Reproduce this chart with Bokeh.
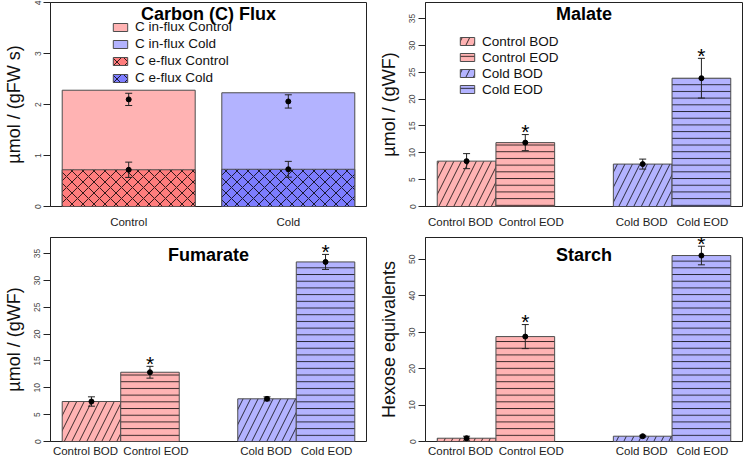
from bokeh.plotting import figure
from bokeh.layouts import column, row
from bokeh.models import Range1d, FixedTicker, Legend, LegendItem, ColumnDataSource, Label
from bokeh.embed import file_html
from bokeh.resources import INLINE
from bokeh.core.properties import value

# ---------------- data ----------------
flux_groups = ["Control", "Cold"]
influx_bar = [2.28, 2.23]
influx_mean = [2.10, 2.06]
influx_se = [0.12, 0.13]
efflux_bar = [0.72, 0.73]
efflux_mean = [0.72, 0.73]
efflux_se = [0.15, 0.155]
flux_legend = ["C in-flux Control", "C in-flux Cold", "C e-flux Control", "C e-flux Cold"]

met_labels = ["Control BOD", "Control EOD", "Cold BOD", "Cold EOD"]
malate_mean = [8.45, 11.9, 7.9, 23.9]
malate_se = [1.4, 1.5, 0.93, 3.7]
fumarate_mean = [7.45, 12.9, 7.95, 33.45]
fumarate_se = [0.87, 1.1, 0.37, 1.4]
starch_mean = [0.9, 28.8, 1.45, 51.05]
starch_se = [0.55, 3.3, 0.25, 2.55]
significant = [False, True, False, True]

flux_ylim = (0, 4)
malate_ylim = (0, 38)
fumarate_ylim = (0, 38)
starch_ylim = (0, 56)
flux_yticks = [0, 1, 2, 3, 4]
malate_yticks = [0, 5, 10, 15, 20, 25, 30, 35]
fumarate_yticks = [0, 5, 10, 15, 20, 25, 30, 35]
starch_yticks = [0, 10, 20, 30, 40, 50]

# ---------------- style ----------------
FONT = "Liberation Sans"
PINK = "#FFB3B3"
BLUE = "#B3B3FF"
PINK2 = "#FF7D7D"
BLUE2 = "#7D7DFF"
EDGE = "#4d4d4d"
met_fill = [PINK, PINK, BLUE, BLUE]
met_hatch = ["/", "-", "/", "-"]
met_hscale = [15, 6.7, 15, 6.7]
met_label_nudge = [-6, 6, -1, 1]   # px, keeps neighbouring labels apart
flux_label_nudge = [0, 0]
FRAME_W = 317


def single_lefts(n, space=0.2):
    return [space + i * (1 + space) for i in range(n)]


def grouped_lefts(ngroups, nper, gspace=1.0):
    return [gspace * (g + 1) + g * nper + j for g in range(ngroups) for j in range(nper)]


def r_xlim(lefts):
    lo, hi = min(lefts), max(lefts) + 1
    d = (hi - lo) * 0.04
    return (lo - d, hi + d)


def make_fig(w, h, bl, br, bt, bb, xr, yr, yticks, xcenters, xlabels, nudges, ylabel,
             title, title_off, xstand):
    p = figure(width=w, height=h, x_range=Range1d(*xr), y_range=Range1d(*yr),
               output_backend="svg", toolbar_location=None,
               min_border_left=bl, min_border_right=br,
               min_border_top=bt, min_border_bottom=bb)
    p.grid.visible = False
    p.outline_line_color = "#222222"
    p.outline_line_width = 1
    p.outline_line_alpha = 1
    p.background_fill_color = "white"
    p.border_fill_color = "white"

    ya = p.yaxis[0]
    ya.ticker = FixedTicker(ticks=yticks)
    ya.major_label_orientation = "vertical"
    ya.major_label_text_font = FONT
    ya.major_label_text_font_size = "8.5px"
    ya.major_label_text_color = "#444444"
    ya.major_tick_out = 7
    ya.major_tick_in = 0
    ya.minor_tick_line_color = None
    ya.axis_line_color = "#222222"
    ya.major_tick_line_color = "#222222"
    ya.major_label_standoff = 3
    ya.axis_label = ylabel
    ya.axis_label_text_font = FONT
    ya.axis_label_text_font_size = "18px"
    ya.axis_label_text_font_style = "normal"
    ya.axis_label_text_color = "#111111"
    ya.axis_label_standoff = 8

    # category labels under the bars (nudged a few px apart where they would touch)
    units_per_px = (xr[1] - xr[0]) / FRAME_W
    lab_pos = [round(c + nd * units_per_px, 6) for c, nd in zip(xcenters, nudges)]
    xa = p.xaxis[0]
    xa.ticker = FixedTicker(ticks=lab_pos)
    xa.major_label_overrides = {pos: lab for pos, lab in zip(lab_pos, xlabels)}
    xa.axis_line_color = None
    xa.major_tick_line_color = None
    xa.minor_tick_line_color = None
    xa.major_tick_out = 0
    xa.major_tick_in = 0
    xa.major_label_text_font = FONT
    xa.major_label_text_font_size = "11.5px"
    xa.major_label_text_color = "#222222"
    xa.major_label_standoff = xstand

    p.add_layout(Label(x=(xr[0] + xr[1]) / 2, y=yr[1], text=title,
                       text_font=FONT, text_font_size="18px", text_font_style="bold",
                       text_align="center", text_baseline="middle",
                       y_offset=-title_off, text_color="black"))
    return p


def errorbars(p, xs, mean, se):
    lo = [m - s for m, s in zip(mean, se)]
    hi = [m + s for m, s in zip(mean, se)]
    p.segment(x0=xs, y0=lo, x1=xs, y1=hi, line_color="#222222", line_width=1)
    p.scatter(x=xs + xs, y=hi + lo, marker="dash", size=7, line_color="#222222", line_width=1)
    p.scatter(x=xs, y=mean, size=5, color="black")
    return hi


def stars(p, xs, hi, sig):
    sx = [x for x, s in zip(xs, sig) if s]
    sy = [y for y, s in zip(hi, sig) if s]
    p.text(x=sx, y=sy, text=["*"] * len(sx), text_font=value(FONT),
           text_font_size="21px", text_align="center", text_baseline="middle",
           y_offset=-3, text_color="black")


def legend(p, items, loc, h):
    leg = Legend(items=items, location=loc, orientation="vertical",
                 border_line_color=None, background_fill_alpha=0,
                 padding=0, margin=0, spacing=0, glyph_width=18, glyph_height=10,
                 label_standoff=6, label_text_font=FONT, label_text_font_size="13.5px",
                 label_height=h, label_text_color="#111111")
    p.add_layout(leg)


# layout sizes (page has no margin: fill the 743x459 window)
LW, RW = 372, 371
TH, BH = 230, 229

# ---------- Panel 1: carbon flux ----------
fl = single_lefts(len(flux_groups))
fx = [round(l + 0.5, 6) for l in fl]
p1 = make_fig(LW, TH, 49, 6, 2, 23, r_xlim(fl), flux_ylim, flux_yticks, fx, flux_groups,
              flux_label_nudge, "µmol / (gFW s)", "Carbon (C) Flux", 11, 9)
r_in = p1.vbar(x=fx, width=1, bottom=0, top=influx_bar, fill_color=[PINK, BLUE],
               line_color=EDGE, line_width=1)
r_ef = p1.vbar(x=fx, width=1, bottom=0, top=efflux_bar, fill_color=[PINK2, BLUE2],
               line_color=EDGE, line_width=1, hatch_pattern="x", hatch_color="black",
               hatch_scale=11, hatch_weight=0.8)
errorbars(p1, fx, influx_mean, influx_se)
errorbars(p1, fx, efflux_mean, efflux_se)
legend(p1, [LegendItem(label=flux_legend[0], renderers=[r_in], index=0),
            LegendItem(label=flux_legend[1], renderers=[r_in], index=1),
            LegendItem(label=flux_legend[2], renderers=[r_ef], index=0),
            LegendItem(label=flux_legend[3], renderers=[r_ef], index=1)], (61, 120), 17)

# ---------- metabolite panels ----------
ml = grouped_lefts(2, 2)
mx = [round(l + 0.5, 6) for l in ml]


def met_panel(w, h, bl, br, bt, bb, ylim, yticks, mean, se, ylabel, title, toff, xstand):
    p = make_fig(w, h, bl, br, bt, bb, r_xlim(ml), ylim, yticks, mx, met_labels,
                 met_label_nudge, ylabel, title, toff, xstand)
    src = ColumnDataSource(dict(x=mx, top=mean, fill=met_fill, hatch=met_hatch,
                                hs=met_hscale))
    r = p.vbar(x="x", width=1, bottom=0, top="top", source=src, fill_color="fill",
               line_color=EDGE, line_width=1, hatch_pattern="hatch", hatch_color="black",
               hatch_scale="hs", hatch_weight=0.9, hatch_alpha=0.85)
    hi = errorbars(p, mx, mean, se)
    stars(p, mx, hi, significant)
    return p, r


p2, r2 = met_panel(RW, TH, 53, 1, 2, 23, malate_ylim, malate_yticks, malate_mean, malate_se,
                   "µmol / (gWF)", "Malate", 11, 9)
legend(p2, [LegendItem(label=met_labels[i], renderers=[r2], index=i) for i in range(4)],
       (33, 109), 16)
p3, _ = met_panel(LW, BH, 49, 6, 7, 17, fumarate_ylim, fumarate_yticks, fumarate_mean,
                  fumarate_se, "µmol / (gWF)", "Fumarate", 17, 3)
p4, _ = met_panel(RW, BH, 53, 1, 7, 17, starch_ylim, starch_yticks, starch_mean,
                  starch_se, "Hexose equivalents", "Starch", 17, 3)

layout = column(row(p1, p2), row(p3, p4))
open("out.html", "w").write(file_html(layout, INLINE))
